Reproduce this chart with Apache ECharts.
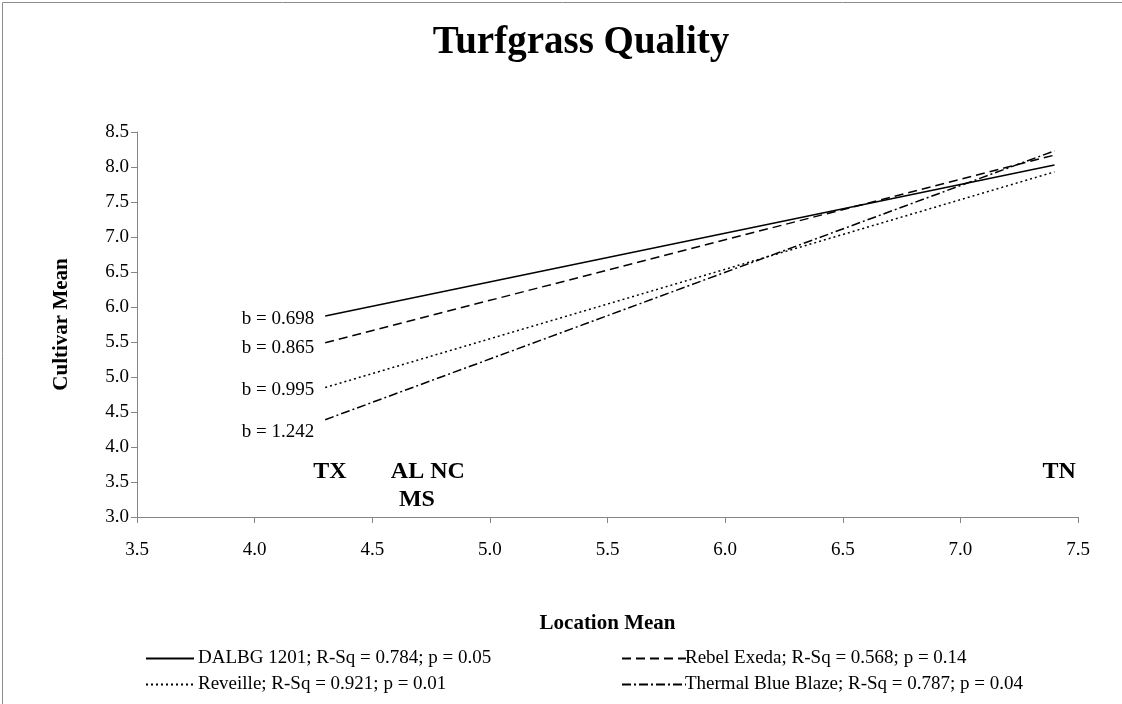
<!DOCTYPE html>
<html>
<head>
<meta charset="utf-8">
<script src="https://cdn.jsdelivr.net/npm/echarts@6/dist/echarts.min.js"></script>
<style>
html,body{margin:0;padding:0;background:#fff;}
#c{width:1122px;height:704px;}
</style>
</head>
<body>
<div id="c"></div>
<script>
// Data
const xRange = [4.3, 7.4];
const seriesNames = [
  'DALBG 1201; R-Sq = 0.784; p = 0.05',
  'Rebel Exeda; R-Sq = 0.568; p = 0.14',
  'Reveille; R-Sq = 0.921; p = 0.01',
  'Thermal Blue Blaze; R-Sq = 0.787; p = 0.04'
];
const dalbgY = [5.87, 8.03];
const rebelY = [5.49, 8.17];
const reveilleY = [4.85, 7.93];
const thermalY = [4.39, 8.23];
const slopeLabels = ['b = 0.698', 'b = 0.865', 'b = 0.995', 'b = 1.242'];
const locNames = ['TX', 'AL', 'NC', 'MS', 'TN'];
const locX = [4.32, 4.65, 4.82, 4.69, 7.42];
const locY = [3.64, 3.64, 3.64, 3.24, 3.64];
const xTicks = ['3.5','4.0','4.5','5.0','5.5','6.0','6.5','7.0','7.5'];

const FONT = 'Liberation Serif';
const dashTypes = ['solid', [9, 5], [2, 3], [9, 3, 2, 3]];
const labelOffsets = [[0, 3], [0, 5], [0, 3], [0, 12]];
const ys = [dalbgY, rebelY, reveilleY, thermalY];

const lineSeries = ys.map((yv, i) => ({
  name: seriesNames[i],
  type: 'line',
  symbol: 'none',
  showSymbol: false,
  silent: true,
  lineStyle: { color: '#000', width: 1.5, type: dashTypes[i] },
  itemStyle: { color: '#000' },
  data: [[xRange[0], yv[0]], [xRange[1], yv[1]]],
  z: 3
}));

const slopeSeries = {
  type: 'scatter',
  symbolSize: 0,
  silent: true,
  itemStyle: { opacity: 1, color: '#000' },
  data: ys.map((yv, i) => ({
    value: [xRange[0], yv[0]],
    label: {
      show: true, formatter: slopeLabels[i], position: 'left', distance: 11,
      offset: labelOffsets[i], fontFamily: FONT, fontSize: 19, color: '#000', textBorderWidth: 0
    }
  })),
  z: 4
};

const locSeries = {
  type: 'scatter',
  symbolSize: 0,
  silent: true,
  itemStyle: { opacity: 1, color: '#000' },
  label: {
    show: true, position: 'inside', formatter: p => p.data[2], fontFamily: FONT,
    fontSize: 24, fontWeight: 'bold', color: '#000', textBorderWidth: 0, opacity: 1
  },
  data: locNames.map((n, i) => [locX[i], locY[i], n]),
  z: 4
};

const chart = echarts.init(document.getElementById('c'), null, { renderer: 'canvas' });
chart.setOption({
  backgroundColor: '#fff',
  animation: false,
  title: {
    text: 'Turfgrass Quality',
    left: 576, top: 18, textAlign: 'center',
    textStyle: { fontFamily: FONT, fontSize: 39, fontWeight: 'bold', color: '#000' }
  },
  graphic: [{
    type: 'rect', left: 0, top: 0,
    shape: { x: 0.5, y: 0.5, width: 1120, height: 702 },
    style: { fill: 'none', stroke: '#8c8c8c', lineWidth: 1 },
    silent: true
  }],
  grid: { left: 137, right: 44, top: 132, bottom: 187, containLabel: false },
  xAxis: {
    type: 'value', min: 3.5, max: 7.5, interval: 0.5,
    name: 'Location Mean', nameLocation: 'middle', nameGap: 96,
    nameTextStyle: { fontFamily: FONT, fontSize: 21, fontWeight: 'bold', color: '#000' },
    axisLine: { show: true, lineStyle: { color: '#868686', width: 1 } },
    axisTick: { show: true, length: 6, lineStyle: { color: '#868686' } },
    axisLabel: { fontFamily: FONT, fontSize: 19, color: '#000', margin: 24, formatter: v => xTicks[Math.round((v - 3.5) / 0.5)] },
    splitLine: { show: false }
  },
  yAxis: {
    type: 'value', min: 3.0, max: 8.5, interval: 0.5,
    name: 'Cultivar Mean', nameLocation: 'middle', nameGap: 65, nameRotate: 90,
    nameTextStyle: { fontFamily: FONT, fontSize: 21, fontWeight: 'bold', color: '#000' },
    axisLine: { show: true, lineStyle: { color: '#868686', width: 1 } },
    axisTick: { show: true, length: 6, lineStyle: { color: '#868686' } },
    axisLabel: { fontFamily: FONT, fontSize: 19, color: '#000', margin: 8, formatter: v => v.toFixed(1) },
    splitLine: { show: false }
  },
  legend: [
    {
      orient: 'vertical', left: 140, top: 644, itemWidth: 48, itemHeight: 10, itemGap: 7,
      data: [seriesNames[0], seriesNames[2]],
      itemStyle: { opacity: 0 },
      textStyle: { fontFamily: FONT, fontSize: 19, color: '#000', padding: [0, 0, 0, -1] },
      selectedMode: false
    },
    {
      orient: 'vertical', left: 616, top: 644, itemWidth: 64, itemHeight: 10, itemGap: 7,
      data: [seriesNames[1], seriesNames[3]],
      itemStyle: { opacity: 0 },
      textStyle: { fontFamily: FONT, fontSize: 19, color: '#000', padding: [0, 0, 0, -6] },
      selectedMode: false
    }
  ],
  series: lineSeries.concat([slopeSeries, locSeries])
});
</script>
</body>
</html>
